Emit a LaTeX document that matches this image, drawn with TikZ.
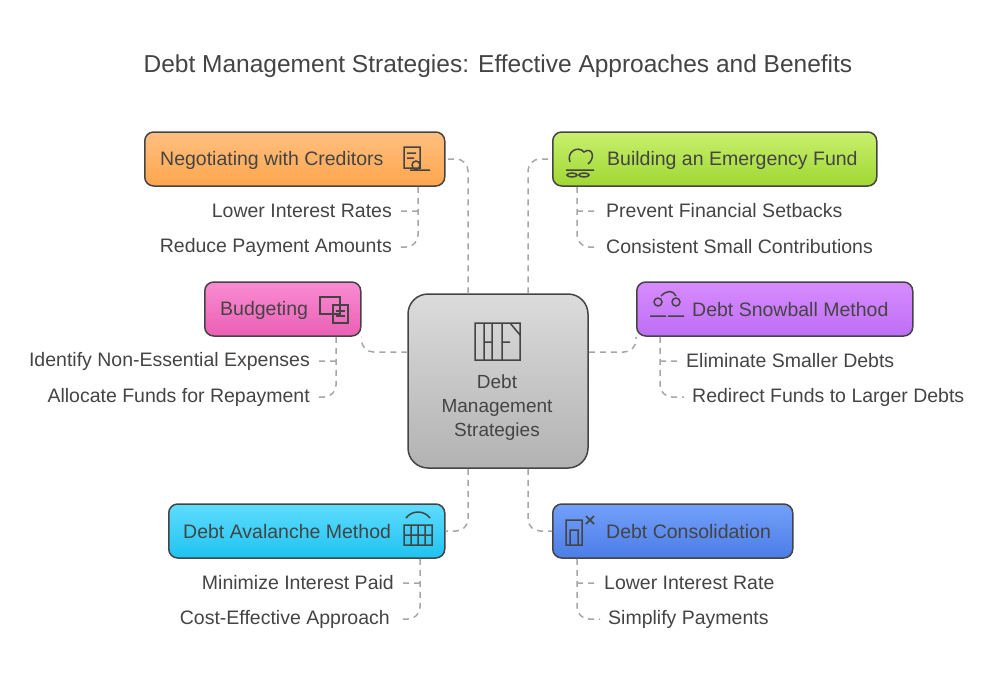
\documentclass[tikz,border=0pt]{standalone}
\usepackage{fontspec}
\setmainfont{Liberation Sans}
\usetikzlibrary{positioning}
\definecolor{txt}{HTML}{444444}
\definecolor{edge}{HTML}{444444}
\definecolor{dash}{HTML}{A6A6A6}
\tikzset{
  box/.style={draw=edge,line width=1.5pt,rounded corners=9pt,minimum height=54pt,anchor=west},
  lbl/.style={text=txt,font=\fontsize{19.5}{22}\selectfont,inner sep=0pt},
  sub/.style={text=txt,font=\fontsize{19.5}{22}\selectfont,inner xsep=8pt,inner ysep=0pt},
  link/.style={draw=dash,line width=1.5pt,dash pattern=on 6pt off 5pt,rounded corners=12pt},
  icon/.style={draw=edge,line width=1.5pt}
}
\begin{document}
\begin{tikzpicture}[x=1pt,y=-1pt]
\useasboundingbox (0,0) rectangle (996,678);
\node[text=txt,font=\fontsize{24.5}{28}\selectfont] (title) at (498,66) {Debt Management Strategies: Effective Approaches and Benefits};

% center
\node[draw=edge,line width=1.5pt,rounded corners=20pt,minimum width=180pt,minimum height=174pt,
  top color=black!14,bottom color=black!30] (hub) at (498,381) {};
\node[text=txt,align=center,font=\fontsize{19}{24}\selectfont] (hubtxt) at (497,408) {Debt\\Management\\Strategies};
\draw[icon] (475,323) rectangle (520,360) (484,323) -- (484,360) (492,323) -- (492,360)
  (502,323) -- (502,360) (510,323) -- (520,335) (484,342) -- (492,342) (502,342) -- (510,342);

% boxes
\node[box,top color=orange!50,bottom color=orange!70,minimum width=300pt] (cred) at (144,159) {};
\node[box,top color={rgb,255:red,200;green,240;blue,110},bottom color={rgb,255:red,160;green,215;blue,50},minimum width=324pt] (fund) at (552,159) {};
\node[box,top color={rgb,255:red,250;green,140;blue,210},bottom color={rgb,255:red,235;green,95;blue,180},minimum width=156pt] (budg) at (204,309) {};
\node[box,top color={rgb,255:red,215;green,140;blue,255},bottom color={rgb,255:red,190;green,110;blue,245},minimum width=276pt] (snow) at (636,309) {};
\node[box,top color={rgb,255:red,95;green,220;blue,255},bottom color={rgb,255:red,30;green,195;blue,240},minimum width=276pt] (aval) at (168,531) {};
\node[box,top color={rgb,255:red,115;green,160;blue,250},bottom color={rgb,255:red,75;green,125;blue,230},minimum width=240pt] (cons) at (552,531) {};
\node[lbl,anchor=west] (credtxt) at (160,160) {Negotiating with Creditors};
\node[lbl,anchor=west] (fundtxt) at (607,160) {Building an Emergency Fund};
\node[lbl,anchor=west] (budgtxt) at (220,310) {Budgeting};
\node[lbl,anchor=west] (snowtxt) at (692,310) {Debt Snowball Method};
\node[lbl,anchor=west] (avaltxt) at (183,532) {Debt Avalanche Method};
\node[lbl,anchor=west] (constxt) at (606,532) {Debt Consolidation};

% icons (simplified)
\draw[icon] (404,147) rectangle (420,168) (407,153) -- (416,153) (407,158) -- (414,158) (410,170) -- (430,170) (416,165) circle (4pt);
\draw[icon] (566,170) -- (594,170) (572,175) ellipse (5pt and 2pt) (584,175) ellipse (5pt and 2pt) (570,162) .. controls (566,152) and (578,145) .. (584,152) .. controls (592,146) and (596,158) .. (588,164);
\draw[icon] (320,297) rectangle (340,314) (333,305) rectangle (348,323) (336,311) -- (345,311) (336,316) -- (345,316);
\draw[icon] (658,302) circle (4pt) (676,302) circle (4pt) (650,316) -- (666,316) (668,316) -- (684,316) (661,296) .. controls (667,290) and (673,290) .. (676,296);
\draw[icon] (404,525) rectangle (432,545) (411,525) -- (411,545) (418,525) -- (418,545) (425,525) -- (425,545) (404,535) -- (432,535) (406,518) .. controls (412,510) and (424,510) .. (430,518);
\draw[icon] (566,520) rectangle (582,545) (570,530) rectangle (578,545) (586,516) -- (594,524) (594,516) -- (586,524);

% connectors from hub
\draw[link] (hub.north -| 468,0) |- (cred.east);
\draw[link] (hub.north -| 528,0) |- (fund.west);
\draw[link] (hub.west |- 0,352) -| (budg.south east);
\draw[link] (hub.east |- 0,352) -| (snow.south west);
\draw[link] (hub.south -| 468,0) |- (aval.east);
\draw[link] (hub.south -| 528,0) |- (cons.west);

% sub items
\node[sub,anchor=east] (c1) at (400,211) {Lower Interest Rates};
\node[sub,anchor=east] (c2) at (400,247) {Reduce Payment Amounts};
\draw[link] (cred.south -| 418,0) |- (c2.east) (418,211) -- (c1.east);
\node[sub,anchor=west] (f1) at (598,211) {Prevent Financial Setbacks};
\node[sub,anchor=west] (f2) at (598,247) {Consistent Small Contributions};
\draw[link] (fund.south -| 577,0) |- (f2.west) (577,211) -- (f1.west);
\node[sub,anchor=east] (b1) at (318,361) {Identify Non-Essential Expenses};
\node[sub,anchor=east] (b2) at (318,397) {Allocate Funds for Repayment};
\draw[link] (budg.south -| 336,0) |- (b2.east) (336,361) -- (b1.east);
\node[sub,anchor=west] (s1) at (678,361) {Eliminate Smaller Debts};
\node[sub,anchor=west] (s2) at (684,397) {Redirect Funds to Larger Debts};
\draw[link] (snow.south -| 660,0) |- (s2.west) (660,361) -- (s1.west);
\node[sub,anchor=east] (a1) at (402,583) {Minimize Interest Paid};
\node[sub,anchor=east] (a2) at (398,619) {Cost-Effective Approach};
\draw[link] (aval.south -| 420,0) |- (a2.east) (420,583) -- (a1.east);
\node[sub,anchor=west] (k1) at (596,583) {Lower Interest Rate};
\node[sub,anchor=west] (k2) at (600,619) {Simplify Payments};
\draw[link] (cons.south -| 577,0) |- (k2.west) (577,583) -- (k1.west);
\end{tikzpicture}
\end{document}
